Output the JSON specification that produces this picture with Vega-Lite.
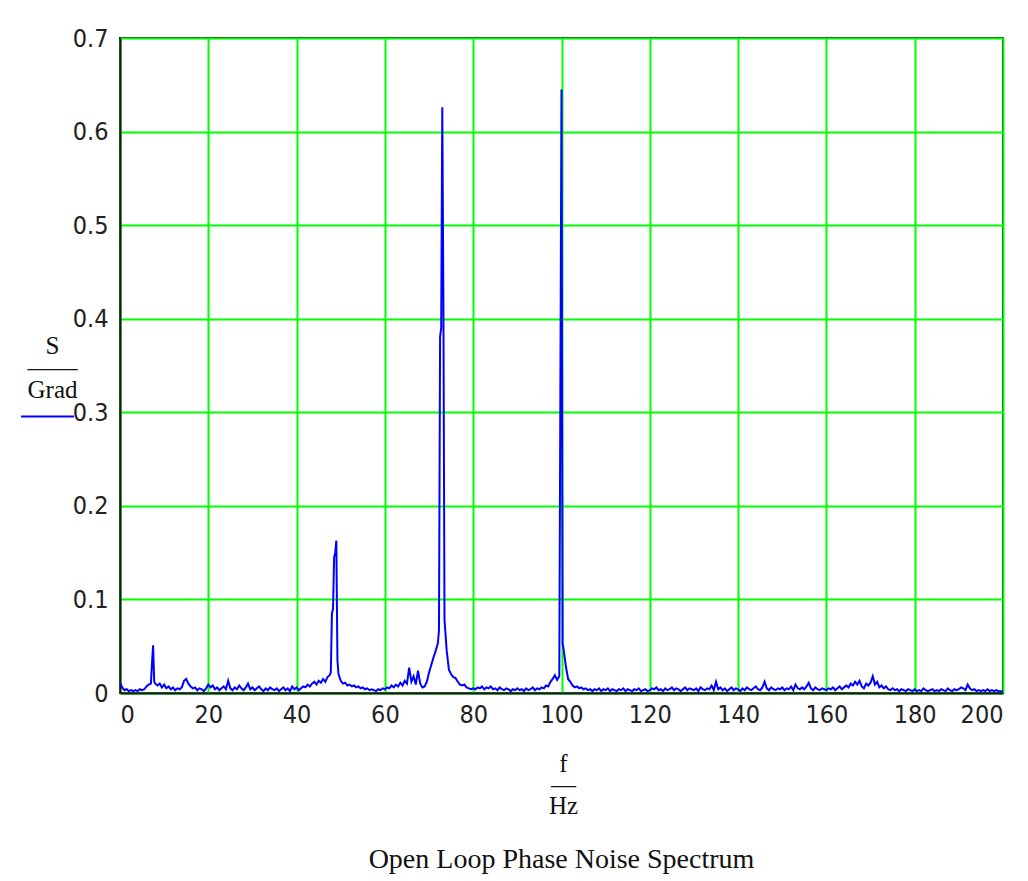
{
  "$schema": "https://vega.github.io/schema/vega-lite/v6.json",
  "width": 883,
  "height": 655,
  "autosize": {"type": "none"},
  "padding": {"left": 120, "top": 38, "right": 25, "bottom": 188},
  "background": "white",
  "config": {
    "view": {"stroke": "#1a1a1a", "strokeWidth": 2},
    "axis": {
      "labelFont": "DejaVu Sans Condensed, Liberation Sans Narrow, Liberation Sans, sans-serif",
      "labelFontSize": 25,
      "labelColor": "#222222",
      "titleFont": "Liberation Serif, Times New Roman, serif",
      "titleFontSize": 25,
      "titleFontWeight": "normal",
      "titleColor": "#111111",
      "gridColor": "#00ff00",
      "gridWidth": 2,
      "gridOpacity": 1,
      "ticks": false,
      "domainColor": "#1a1a1a",
      "domainWidth": 2
    },
    "title": {"font": "Liberation Serif, Times New Roman, serif", "fontSize": 28, "fontWeight": "normal", "color": "#111111"}
  },
  "title": {"text": "Open Loop Phase Noise Spectrum", "orient": "bottom", "anchor": "middle", "offset": 28},
  "data": {"values": [
{"f":0,"s":0.011},{"f":0.5,"s":0.006},{"f":1,"s":0.003},{"f":1.5,"s":0.004},{"f":2,"s":0.002},{"f":2.5,"s":0.003},{"f":3,"s":0.002},{"f":3.5,"s":0.003},{"f":4,"s":0.002},{"f":4.5,"s":0.004},
{"f":5,"s":0.003},{"f":5.5,"s":0.004},{"f":6,"s":0.007},{"f":6.5,"s":0.009},{"f":7,"s":0.010},{"f":7.25,"s":0.032},{"f":7.5,"s":0.051},{"f":7.75,"s":0.012},{"f":8,"s":0.010},{"f":8.5,"s":0.008},{"f":9,"s":0.010},{"f":9.5,"s":0.006},
{"f":10,"s":0.009},{"f":10.5,"s":0.005},{"f":11,"s":0.007},{"f":11.5,"s":0.004},{"f":12,"s":0.006},{"f":12.5,"s":0.003},{"f":13,"s":0.005},{"f":13.5,"s":0.004},{"f":14,"s":0.006},{"f":14.5,"s":0.013},
{"f":15,"s":0.015},{"f":15.5,"s":0.010},{"f":16,"s":0.007},{"f":16.5,"s":0.005},{"f":17,"s":0.006},{"f":17.5,"s":0.003},{"f":18,"s":0.005},{"f":18.5,"s":0.004},{"f":19,"s":0.002},{"f":19.5,"s":0.005},
{"f":20,"s":0.009},{"f":20.5,"s":0.006},{"f":21,"s":0.008},{"f":21.5,"s":0.004},{"f":22,"s":0.006},{"f":22.5,"s":0.003},{"f":23,"s":0.005},{"f":23.5,"s":0.007},{"f":24,"s":0.004},{"f":24.5,"s":0.013},
{"f":25,"s":0.005},{"f":25.5,"s":0.003},{"f":26,"s":0.006},{"f":26.5,"s":0.004},{"f":27,"s":0.008},{"f":27.5,"s":0.005},{"f":28,"s":0.003},{"f":28.5,"s":0.006},{"f":29,"s":0.010},{"f":29.5,"s":0.004},
{"f":30,"s":0.006},{"f":30.5,"s":0.003},{"f":31,"s":0.005},{"f":31.5,"s":0.007},{"f":32,"s":0.004},{"f":32.5,"s":0.002},{"f":33,"s":0.005},{"f":33.5,"s":0.003},{"f":34,"s":0.006},{"f":34.5,"s":0.004},
{"f":35,"s":0.003},{"f":35.5,"s":0.005},{"f":36,"s":0.002},{"f":36.5,"s":0.004},{"f":37,"s":0.006},{"f":37.5,"s":0.003},{"f":38,"s":0.005},{"f":38.5,"s":0.002},{"f":39,"s":0.007},{"f":39.5,"s":0.004},
{"f":40,"s":0.006},{"f":40.5,"s":0.003},{"f":41,"s":0.005},{"f":41.5,"s":0.007},{"f":42,"s":0.006},{"f":42.5,"s":0.009},{"f":43,"s":0.007},{"f":43.5,"s":0.010},{"f":44,"s":0.012},{"f":44.5,"s":0.009},
{"f":45,"s":0.013},{"f":45.5,"s":0.011},{"f":46,"s":0.015},{"f":46.5,"s":0.012},{"f":47,"s":0.017},{"f":47.5,"s":0.019},{"f":47.75,"s":0.022},{"f":48,"s":0.085},{"f":48.25,"s":0.090},{"f":48.5,"s":0.145},{"f":48.75,"s":0.150},{"f":49,"s":0.163},{"f":49.25,"s":0.035},{"f":49.5,"s":0.020},
{"f":50,"s":0.013},{"f":50.5,"s":0.010},{"f":51,"s":0.011},{"f":51.5,"s":0.008},{"f":52,"s":0.009},{"f":52.5,"s":0.007},{"f":53,"s":0.008},{"f":53.5,"s":0.006},{"f":54,"s":0.007},{"f":54.5,"s":0.005},
{"f":55,"s":0.006},{"f":55.5,"s":0.004},{"f":56,"s":0.005},{"f":56.5,"s":0.003},{"f":57,"s":0.004},{"f":57.5,"s":0.003},{"f":58,"s":0.002},{"f":58.5,"s":0.004},{"f":59,"s":0.003},{"f":59.5,"s":0.005},
{"f":60,"s":0.004},{"f":60.5,"s":0.006},{"f":61,"s":0.005},{"f":61.5,"s":0.008},{"f":62,"s":0.006},{"f":62.5,"s":0.009},{"f":63,"s":0.007},{"f":63.5,"s":0.011},{"f":64,"s":0.008},{"f":64.5,"s":0.013},
{"f":65,"s":0.010},{"f":65.5,"s":0.027},{"f":66,"s":0.012},{"f":66.5,"s":0.018},{"f":67,"s":0.009},{"f":67.5,"s":0.024},{"f":68,"s":0.010},{"f":68.5,"s":0.006},{"f":69,"s":0.007},{"f":69.5,"s":0.012},
{"f":70,"s":0.022},{"f":70.5,"s":0.030},{"f":71,"s":0.038},{"f":71.5,"s":0.045},{"f":72,"s":0.053},{"f":72.25,"s":0.067},{"f":72.5,"s":0.381},{"f":72.75,"s":0.390},{"f":73,"s":0.626},{"f":73.25,"s":0.419},{"f":73.5,"s":0.078},{"f":74,"s":0.045},{"f":74.5,"s":0.025},
{"f":75,"s":0.020},{"f":75.5,"s":0.017},{"f":76,"s":0.016},{"f":76.5,"s":0.012},{"f":77,"s":0.009},{"f":77.5,"s":0.008},{"f":78,"s":0.009},{"f":78.5,"s":0.006},{"f":79,"s":0.005},{"f":79.5,"s":0.004},
{"f":80,"s":0.005},{"f":80.5,"s":0.004},{"f":81,"s":0.006},{"f":81.5,"s":0.005},{"f":82,"s":0.007},{"f":82.5,"s":0.004},{"f":83,"s":0.006},{"f":83.5,"s":0.005},{"f":84,"s":0.007},{"f":84.5,"s":0.004},
{"f":85,"s":0.005},{"f":85.5,"s":0.003},{"f":86,"s":0.006},{"f":86.5,"s":0.004},{"f":87,"s":0.003},{"f":87.5,"s":0.005},{"f":88,"s":0.004},{"f":88.5,"s":0.002},{"f":89,"s":0.004},{"f":89.5,"s":0.003},
{"f":90,"s":0.005},{"f":90.5,"s":0.003},{"f":91,"s":0.004},{"f":91.5,"s":0.002},{"f":92,"s":0.005},{"f":92.5,"s":0.003},{"f":93,"s":0.004},{"f":93.5,"s":0.006},{"f":94,"s":0.003},{"f":94.5,"s":0.005},
{"f":95,"s":0.004},{"f":95.5,"s":0.006},{"f":96,"s":0.005},{"f":96.5,"s":0.008},{"f":97,"s":0.007},{"f":97.5,"s":0.012},{"f":98,"s":0.015},{"f":98.5,"s":0.019},{"f":99,"s":0.014},{"f":99.5,"s":0.018},{"f":99.75,"s":0.331},
{"f":100,"s":0.645},{"f":100.25,"s":0.053},{"f":100.5,"s":0.046},{"f":101,"s":0.028},{"f":101.5,"s":0.015},{"f":102,"s":0.012},{"f":102.5,"s":0.008},{"f":103,"s":0.006},{"f":103.5,"s":0.007},{"f":104,"s":0.005},{"f":104.5,"s":0.006},
{"f":105,"s":0.004},{"f":105.5,"s":0.005},{"f":106,"s":0.003},{"f":106.5,"s":0.004},{"f":107,"s":0.002},{"f":107.5,"s":0.004},{"f":108,"s":0.003},{"f":108.5,"s":0.005},{"f":109,"s":0.002},{"f":109.5,"s":0.004},
{"f":110,"s":0.003},{"f":110.5,"s":0.005},{"f":111,"s":0.002},{"f":111.5,"s":0.004},{"f":112,"s":0.003},{"f":112.5,"s":0.002},{"f":113,"s":0.004},{"f":113.5,"s":0.003},{"f":114,"s":0.005},{"f":114.5,"s":0.002},
{"f":115,"s":0.004},{"f":115.5,"s":0.003},{"f":116,"s":0.002},{"f":116.5,"s":0.004},{"f":117,"s":0.003},{"f":117.5,"s":0.005},{"f":118,"s":0.002},{"f":118.5,"s":0.003},{"f":119,"s":0.004},{"f":119.5,"s":0.002},
{"f":120,"s":0.003},{"f":120.5,"s":0.005},{"f":121,"s":0.004},{"f":121.5,"s":0.006},{"f":122,"s":0.003},{"f":122.5,"s":0.004},{"f":123,"s":0.002},{"f":123.5,"s":0.005},{"f":124,"s":0.003},{"f":124.5,"s":0.004},
{"f":125,"s":0.006},{"f":125.5,"s":0.003},{"f":126,"s":0.005},{"f":126.5,"s":0.004},{"f":127,"s":0.002},{"f":127.5,"s":0.004},{"f":128,"s":0.006},{"f":128.5,"s":0.003},{"f":129,"s":0.005},{"f":129.5,"s":0.004},
{"f":130,"s":0.003},{"f":130.5,"s":0.005},{"f":131,"s":0.002},{"f":131.5,"s":0.006},{"f":132,"s":0.004},{"f":132.5,"s":0.003},{"f":133,"s":0.005},{"f":133.5,"s":0.004},{"f":134,"s":0.008},{"f":134.5,"s":0.003},
{"f":135,"s":0.012},{"f":135.5,"s":0.004},{"f":136,"s":0.006},{"f":136.5,"s":0.003},{"f":137,"s":0.005},{"f":137.5,"s":0.002},{"f":138,"s":0.004},{"f":138.5,"s":0.006},{"f":139,"s":0.003},{"f":139.5,"s":0.005},
{"f":140,"s":0.004},{"f":140.5,"s":0.002},{"f":141,"s":0.005},{"f":141.5,"s":0.003},{"f":142,"s":0.006},{"f":142.5,"s":0.004},{"f":143,"s":0.003},{"f":143.5,"s":0.005},{"f":144,"s":0.007},{"f":144.5,"s":0.004},
{"f":145,"s":0.003},{"f":145.5,"s":0.006},{"f":146,"s":0.012},{"f":146.5,"s":0.005},{"f":147,"s":0.003},{"f":147.5,"s":0.006},{"f":148,"s":0.004},{"f":148.5,"s":0.003},{"f":149,"s":0.005},{"f":149.5,"s":0.004},
{"f":150,"s":0.006},{"f":150.5,"s":0.003},{"f":151,"s":0.005},{"f":151.5,"s":0.004},{"f":152,"s":0.007},{"f":152.5,"s":0.003},{"f":153,"s":0.009},{"f":153.5,"s":0.005},{"f":154,"s":0.004},{"f":154.5,"s":0.006},
{"f":155,"s":0.004},{"f":155.5,"s":0.007},{"f":156,"s":0.011},{"f":156.5,"s":0.005},{"f":157,"s":0.003},{"f":157.5,"s":0.006},{"f":158,"s":0.004},{"f":158.5,"s":0.003},{"f":159,"s":0.005},{"f":159.5,"s":0.004},
{"f":160,"s":0.003},{"f":160.5,"s":0.005},{"f":161,"s":0.004},{"f":161.5,"s":0.006},{"f":162,"s":0.003},{"f":162.5,"s":0.005},{"f":163,"s":0.007},{"f":163.5,"s":0.004},{"f":164,"s":0.006},{"f":164.5,"s":0.008},
{"f":165,"s":0.006},{"f":165.5,"s":0.010},{"f":166,"s":0.008},{"f":166.5,"s":0.012},{"f":167,"s":0.009},{"f":167.5,"s":0.013},{"f":168,"s":0.007},{"f":168.5,"s":0.005},{"f":169,"s":0.010},{"f":169.5,"s":0.008},
{"f":170,"s":0.011},{"f":170.5,"s":0.018},{"f":171,"s":0.009},{"f":171.5,"s":0.012},{"f":172,"s":0.006},{"f":172.5,"s":0.008},{"f":173,"s":0.005},{"f":173.5,"s":0.007},{"f":174,"s":0.004},{"f":174.5,"s":0.003},
{"f":175,"s":0.005},{"f":175.5,"s":0.003},{"f":176,"s":0.004},{"f":176.5,"s":0.002},{"f":177,"s":0.004},{"f":177.5,"s":0.003},{"f":178,"s":0.002},{"f":178.5,"s":0.004},{"f":179,"s":0.003},{"f":179.5,"s":0.002},
{"f":180,"s":0.004},{"f":180.5,"s":0.002},{"f":181,"s":0.003},{"f":181.5,"s":0.002},{"f":182,"s":0.005},{"f":182.5,"s":0.003},{"f":183,"s":0.002},{"f":183.5,"s":0.003},{"f":184,"s":0.004},{"f":184.5,"s":0.002},
{"f":185,"s":0.003},{"f":185.5,"s":0.002},{"f":186,"s":0.004},{"f":186.5,"s":0.003},{"f":187,"s":0.002},{"f":187.5,"s":0.005},{"f":188,"s":0.003},{"f":188.5,"s":0.002},{"f":189,"s":0.004},{"f":189.5,"s":0.003},
{"f":190,"s":0.004},{"f":190.5,"s":0.006},{"f":191,"s":0.005},{"f":191.5,"s":0.003},{"f":192,"s":0.009},{"f":192.5,"s":0.005},{"f":193,"s":0.003},{"f":193.5,"s":0.004},{"f":194,"s":0.002},{"f":194.5,"s":0.003},
{"f":195,"s":0.002},{"f":195.5,"s":0.003},{"f":196,"s":0.002},{"f":196.5,"s":0.004},{"f":197,"s":0.002},{"f":197.5,"s":0.003},{"f":198,"s":0.002},{"f":198.5,"s":0.003},{"f":199,"s":0.002},{"f":199.5,"s":0.002},
{"f":200,"s":0.002}
  ]},
  "mark": {"type": "line", "strokeWidth": 2, "interpolate": "linear", "clip": true},
  "encoding": {
    "x": {
      "field": "f", "type": "quantitative",
      "scale": {"domain": [0, 200], "nice": false, "zero": false},
      "axis": {
        "values": [0, 20, 40, 60, 80, 100, 120, 140, 160, 180, 200],
        "grid": true,
        "labelPadding": 9,
        "labelDx": 3,
        "title": ["f", "—", "Hz"],
        "titleLineHeight": 21,
        "titleBaseline": "alphabetic",
        "titleAnchor": "middle",
        "titleX": 443,
        "titleY": 78
      }
    },
    "y": {
      "field": "s", "type": "quantitative",
      "scale": {"domain": [0, 0.7], "nice": false},
      "axis": {
        "values": [0, 0.1, 0.2, 0.3, 0.4, 0.5, 0.6, 0.7],
        "labelExpr": "datum.value == 0 ? '0' : format(datum.value, '.1f')",
        "grid": true,
        "labelPadding": 12,
        "title": ["S", "——", "Grad"],
        "titleAngle": 0,
        "titleAlign": "center",
        "titleBaseline": "alphabetic",
        "titleLineHeight": 22,
        "titleX": -68,
        "titleY": 315
      }
    },
    "color": {
      "datum": "S/Grad",
      "scale": {"range": ["#0000ff"]},
      "legend": {
        "orient": "none",
        "legendX": -100,
        "legendY": 351,
        "title": null,
        "symbolType": "stroke",
        "symbolSize": 2800,
        "symbolStrokeWidth": 2,
        "labelExpr": "''",
        "padding": 0
      }
    }
  }
}
